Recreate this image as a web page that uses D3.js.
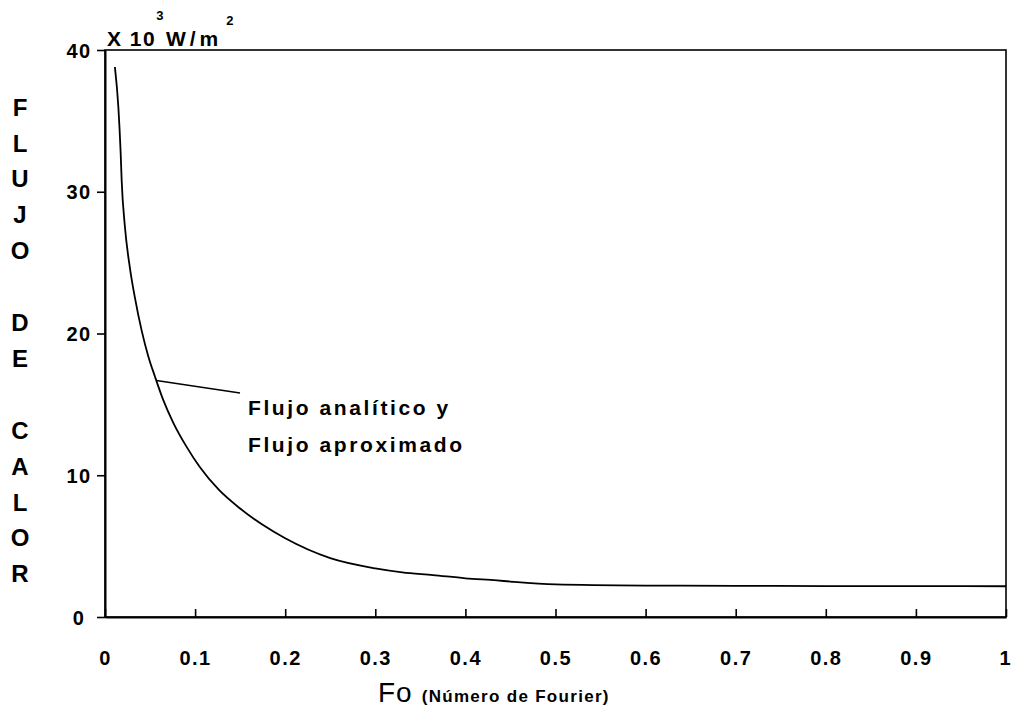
<!DOCTYPE html>
<html>
<head>
<meta charset="utf-8">
<script src="https://cdn.jsdelivr.net/npm/d3@7/dist/d3.min.js"></script>
<style>
  html, body { margin: 0; padding: 0; background: #fff; }
  svg { display: block; }
  text { font-family: "Liberation Sans", Arial, sans-serif; font-weight: bold; fill: #000; }
</style>
</head>
<body>
<svg id="chart" width="1011" height="713"></svg>
<script>
// ---- data ----
const foValues   = [0.011, 0.0148, 0.0174, 0.0185, 0.022, 0.0277, 0.0333, 0.0407, 0.048, 0.0555, 0.0647, 0.0758, 0.0906, 0.105, 0.126, 0.15, 0.175, 0.2, 0.25, 0.3, 0.33, 0.364, 0.4, 0.435, 0.45, 0.5, 0.6, 0.7, 0.8, 0.9, 1.0];
const fluxValues = [38.8, 36.0, 32.7, 30.8, 27.6, 24.6, 22.5, 20.2, 18.4, 16.95, 15.3, 13.7, 12.0, 10.6, 9.0, 7.65, 6.5, 5.55, 4.15, 3.43, 3.15, 2.96, 2.73, 2.58, 2.5, 2.3, 2.22, 2.2, 2.18, 2.18, 2.17];
const xTicks = [0, 0.1, 0.2, 0.3, 0.4, 0.5, 0.6, 0.7, 0.8, 0.9, 1];
const xTickLabels = ["0", "0.1", "0.2", "0.3", "0.4", "0.5", "0.6", "0.7", "0.8", "0.9", "1"];
const yTicks = [0, 10, 20, 30, 40];
const yTickLabels = ["0", "10", "20", "30", "40"];
const yTitleLetters = ["F", "L", "U", "J", "O", "", "D", "E", "", "C", "A", "L", "O", "R"];
const annotationLines = ["Flujo analítico y", "Flujo aproximado"];
const annotationFo = 0.057;   // point on curve where the leader starts

// ---- layout ----
const svg = d3.select("#chart");
const mLeft = 105, mRight = 1006, mTop = 50, mBottom = 617;

const x = d3.scaleLinear().domain([0, 1]).range([mLeft, mRight]);
const y = d3.scaleLinear().domain([0, 40]).range([mBottom, mTop]);

// frame (top and right borders)
svg.append("rect")
  .attr("x", mLeft).attr("y", mTop)
  .attr("width", mRight - mLeft).attr("height", mBottom - mTop)
  .attr("fill", "none").attr("stroke", "#000").attr("stroke-width", 1.6);

// x axis (ticks pointing inward)
const xAxis = d3.axisBottom(x)
  .tickValues(xTicks)
  .tickSizeInner(-8).tickSizeOuter(0)
  .tickFormat((d, i) => xTickLabels[i]);
const gx = svg.append("g").attr("transform", `translate(0,${mBottom})`).call(xAxis);
gx.select(".domain").attr("stroke", "#000").attr("stroke-width", 2);
gx.selectAll(".tick line").attr("stroke", "#000").attr("stroke-width", 1.6);
gx.selectAll(".tick text")
  .attr("y", 48).attr("dy", 0)
  .style("font-size", "20px").style("letter-spacing", "1.5px")
  .style("font-family", "'Liberation Sans', Arial, sans-serif").style("font-weight", "bold");
// last label sits at the frame edge: keep it inside the page
gx.selectAll(".tick text").filter(d => d === 1)
  .attr("text-anchor", "end").attr("x", 4).style("letter-spacing", "0px");

// y axis (ticks pointing outward)
const yAxis = d3.axisLeft(y)
  .tickValues(yTicks)
  .tickSizeInner(8).tickSizeOuter(0)
  .tickFormat((d, i) => yTickLabels[i]);
const gy = svg.append("g").attr("transform", `translate(${mLeft},0)`).call(yAxis);
gy.select(".domain").attr("stroke", "#000").attr("stroke-width", 2);
gy.selectAll(".tick line").attr("stroke", "#000").attr("stroke-width", 1.6);
gy.selectAll(".tick text")
  .attr("x", -26).attr("dy", "0.35em")
  .attr("text-anchor", "middle")
  .style("font-size", "20px").style("letter-spacing", "1.5px")
  .style("font-family", "'Liberation Sans', Arial, sans-serif").style("font-weight", "bold");

// curve
const pts = foValues.map((f, i) => [f, fluxValues[i]]);
svg.append("path")
  .datum(pts)
  .attr("fill", "none").attr("stroke", "#000").attr("stroke-width", 1.8)
  .attr("d", d3.line().x(d => x(d[0])).y(d => y(d[1])).curve(d3.curveMonotoneX));

// annotation leader + text
const annY = d3.scaleLinear().domain(foValues).range(fluxValues)(annotationFo);
svg.append("line")
  .attr("x1", x(annotationFo)).attr("y1", y(annY))
  .attr("x2", 240).attr("y2", 393)
  .attr("stroke", "#000").attr("stroke-width", 1.4);
svg.selectAll("text.ann").data(annotationLines).enter().append("text")
  .attr("class", "ann")
  .attr("x", 248).attr("y", (d, i) => 415 + i * 37)
  .style("font-size", "21px").style("letter-spacing", "2.6px")
  .text(d => d);

// y title: vertical stacked letters
svg.selectAll("text.ylet").data(yTitleLetters).enter().append("text")
  .attr("class", "ylet")
  .attr("x", 20).attr("y", (d, i) => 107 + i * 35.9)
  .attr("dy", "0.36em").attr("text-anchor", "middle")
  .style("font-size", "24px")
  .text(d => d);

// unit label at top
const unit = svg.append("text").attr("x", 107).attr("y", 46).style("font-size", "21px").style("letter-spacing", "1.5px");
unit.append("tspan").text("X 10");
unit.append("tspan").attr("dy", -26).attr("dx", 0).style("font-size", "13px").text("3");
unit.append("tspan").attr("dy", 26).attr("dx", 1).style("letter-spacing", "4px").text("W/m");
unit.append("tspan").attr("dy", -21).attr("dx", 4).style("font-size", "13px").text("2");

// x title
const xt = svg.append("text").attr("x", 378).attr("y", 702);
xt.append("tspan").style("font-size", "28px").style("font-weight", "normal").style("letter-spacing", "1px").text("Fo");
xt.append("tspan").attr("dx", 9).style("font-size", "17px").style("letter-spacing", "1.3px").text("(Número de Fourier)");
</script>
</body>
</html>
